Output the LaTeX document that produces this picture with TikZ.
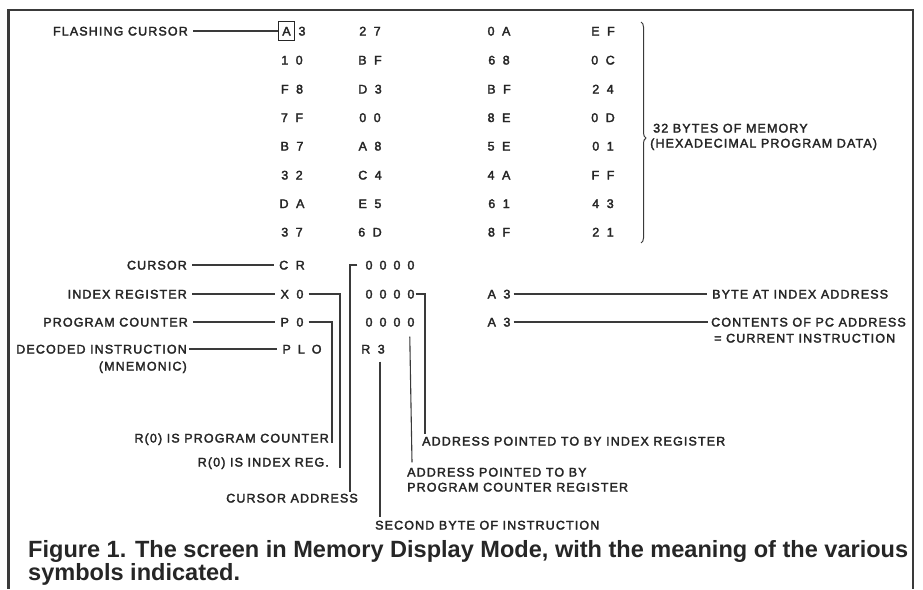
\documentclass[tikz,border=0pt]{standalone}
\usepackage{fontspec}
\usepackage{graphicx}
\usetikzlibrary{decorations.pathreplacing,calc}
\newfontfamily\lblfont[LetterSpace=9,FakeBold=2.5]{Liberation Sans}
\newfontfamily\capfont{Liberation Sans}
\definecolor{ink}{HTML}{262626}
\definecolor{rule}{HTML}{3A3A3A}
\newcommand\hpair[2]{#1\hspace{7.5pt}#2}
\newcommand\zquad{0\hspace{7pt}0\hspace{7pt}0\hspace{7pt}0}
\begin{document}
\begin{tikzpicture}[x=1pt,y=-1pt,
  lbl/.style={font=\lblfont\fontsize{12.5}{14}\selectfont, inner sep=0pt, text height=9pt, text depth=0pt, text=ink},
  hexv/.style={lbl},
  conn/.style={draw=rule, line width=1.1pt},
  framel/.style={draw=rule, line width=2pt},
  bracel/.style={draw=rule, line width=1pt, decorate, decoration={brace, amplitude=5pt, aspect=0.525}}]
\useasboundingbox (0,0) rectangle (923,589);
\fill[white] (0,0) rectangle (923,589);
% frame
\draw[framel] (9,10) -- (913,10);
\draw[framel, line width=3pt] (8,9) -- (8,589);
\draw[framel] (913,9) -- (913,589);

% memory bytes
\node[hexv, draw=ink, line width=1pt, inner xsep=4pt, inner ysep=5pt] (bA) at (286.5,31) {A};
\node[hexv] (m11) at (302,31) {3};
\foreach \y/\rr/\cb/\cc/\cd in {
  31/1/{\hpair{2}{7}}/{\hpair{0}{A}}/{\hpair{E}{F}},
  60/2/{\hpair{B}{F}}/{\hpair{6}{8}}/{\hpair{0}{C}},
  89/3/{\hpair{D}{3}}/{\hpair{B}{F}}/{\hpair{2}{4}},
  117.5/4/{\hpair{0}{0}}/{\hpair{8}{E}}/{\hpair{0}{D}},
  146/5/{\hpair{A}{8}}/{\hpair{5}{E}}/{\hpair{0}{1}},
  175/6/{\hpair{C}{4}}/{\hpair{4}{A}}/{\hpair{F}{F}},
  203.5/7/{\hpair{E}{5}}/{\hpair{6}{1}}/{\hpair{4}{3}},
  232/8/{\hpair{6}{D}}/{\hpair{8}{F}}/{\hpair{2}{1}}}{
  \node[hexv] (m\rr b) at (370,\y) {\cb};
  \node[hexv] (m\rr c) at (499,\y) {\cc};
  \node[hexv] (m\rr d) at (603,\y) {\cd};
}
\node[hexv] (m2a) at (292,60) {\hpair{1}{0}};
\node[hexv] (m3a) at (292,89) {\hpair{F}{8}};
\node[hexv] (m4a) at (292,117.5) {\hpair{7}{F}};
\node[hexv] (m5a) at (292,146) {\hpair{B}{7}};
\node[hexv] (m6a) at (292,175) {\hpair{3}{2}};
\node[hexv] (m7a) at (292,203.5) {\hpair{D}{A}};
\node[hexv] (m8a) at (292,232) {\hpair{3}{7}};

% brace and its label
\coordinate (brt) at (641,22);
\coordinate (brb) at (641,243);
\draw[bracel] (brt) -- (brb);
\node[lbl, anchor=west] (mem1) at (653,128) {32 BYTES OF MEMORY};
\node[lbl, anchor=west] (mem2) at (650,143) {(HEXADECIMAL PROGRAM DATA)};

% flashing cursor
\node[lbl, anchor=east] (flash) at (188,31) {FLASHING CURSOR};
\draw[conn, shorten <=5pt] (flash.east) -- (bA.west);

% register rows
\node[hexv] (cr) at (292,265) {\hpair{C}{R}};
\node[hexv] (x0) at (292,294) {\hpair{X}{0}};
\node[hexv] (p0) at (292,322) {\hpair{P}{0}};
\node[hexv] (plo) at (302,349) {P\hspace{7pt}L\hspace{7pt}O};
\node[hexv] (z1) at (390,265) {\zquad};
\node[hexv] (z2) at (390,294) {\zquad};
\node[hexv] (z3) at (390,322) {\zquad};
\node[hexv] (r3) at (373,349) {\hpair{R}{3}};
\node[hexv] (a3x) at (499,294) {\hpair{A}{3}};
\node[hexv] (a3p) at (499,322) {\hpair{A}{3}};

% left labels
\node[lbl, anchor=east] (lcur) at (187,265) {CURSOR};
\node[lbl, anchor=east] (lidx) at (187,294) {INDEX REGISTER};
\node[lbl, anchor=east] (lpc) at (188,322) {PROGRAM COUNTER};
\node[lbl, anchor=east] (ldec) at (187,349) {DECODED INSTRUCTION};
\node[lbl, anchor=east] (lmne) at (187,366) {(MNEMONIC)};
\draw[conn, shorten <=5pt, shorten >=5pt] (lcur.east) -- (cr.west);
\draw[conn, shorten <=5pt, shorten >=5pt] (lidx.east) -- (x0.west);
\draw[conn, shorten <=5pt, shorten >=5pt] (lpc.east) -- (p0.west);
\draw[conn, shorten <=2pt, shorten >=5pt] (ldec.east) -- (plo.west);

% right labels
\node[lbl, anchor=west] (byte) at (712,294) {BYTE AT INDEX ADDRESS};
\node[lbl, anchor=west] (cont1) at (711,322) {CONTENTS OF PC ADDRESS};
\node[lbl, anchor=west] (cont2) at (714,338) {= CURRENT INSTRUCTION};
\draw[conn, shorten <=3pt, shorten >=5pt] (a3x.east) -- (byte.west);
\draw[conn, shorten <=3pt, shorten >=3pt] (a3p.east) -- (cont1.west);

% bottom labels
\node[lbl, anchor=east] (rpc) at (329,438) {R(0) IS PROGRAM COUNTER};
\node[lbl, anchor=east] (ridx) at (329,462) {R(0) IS INDEX REG.};
\node[lbl, anchor=east] (caddr) at (358,498) {CURSOR ADDRESS};
\node[lbl, anchor=west] (second) at (375,525) {SECOND BYTE OF INSTRUCTION};
\node[lbl, anchor=west] (aidx) at (422,441) {ADDRESS POINTED TO BY INDEX REGISTER};
\node[lbl, anchor=west] (apc1) at (407,472) {ADDRESS POINTED TO BY};
\node[lbl, anchor=west] (apc2) at (407,487) {PROGRAM COUNTER REGISTER};

% free ends of the bottom connectors
\coordinate (pe) at ([xshift=3pt]rpc.south east);
\coordinate (xe) at ([xshift=11pt,yshift=-1.5pt]ridx.south east);
\coordinate (ce) at ([xshift=-8pt,yshift=1.5pt]caddr.north east);
\coordinate (se) at ([xshift=5pt,yshift=3pt]second.north west);
\coordinate (ae) at ([xshift=3pt,yshift=2pt]aidx.north west);
\coordinate (pce) at ([xshift=5pt,yshift=5pt]apc1.north west);

\draw[conn, shorten <=5pt] (p0.east) -| (pe);
\draw[conn, shorten <=5pt] (x0.east) -| (xe);
\draw[conn, shorten <=8pt] (z1.west) -| (ce);
\draw[conn, shorten <=8pt] ([xshift=7pt]r3.south) -- (se);
\draw[conn, shorten <=1pt] (z2.east) -| (ae);
\draw[conn, shorten <=10pt] ([xshift=-5pt]z3.south east) -- (pce);

% caption
\node[anchor=base west, inner sep=0pt, text=ink] (cap) at (28,557)
  {\resizebox{880pt}{\height}{\capfont\bfseries\fontsize{23.5}{22}\selectfont\renewcommand\arraystretch{1}%
   \begin{tabular}[t]{@{}l@{}}Figure 1. The screen in Memory Display Mode, with the meaning of the various\\ symbols indicated.\end{tabular}}};
\end{tikzpicture}
\end{document}
